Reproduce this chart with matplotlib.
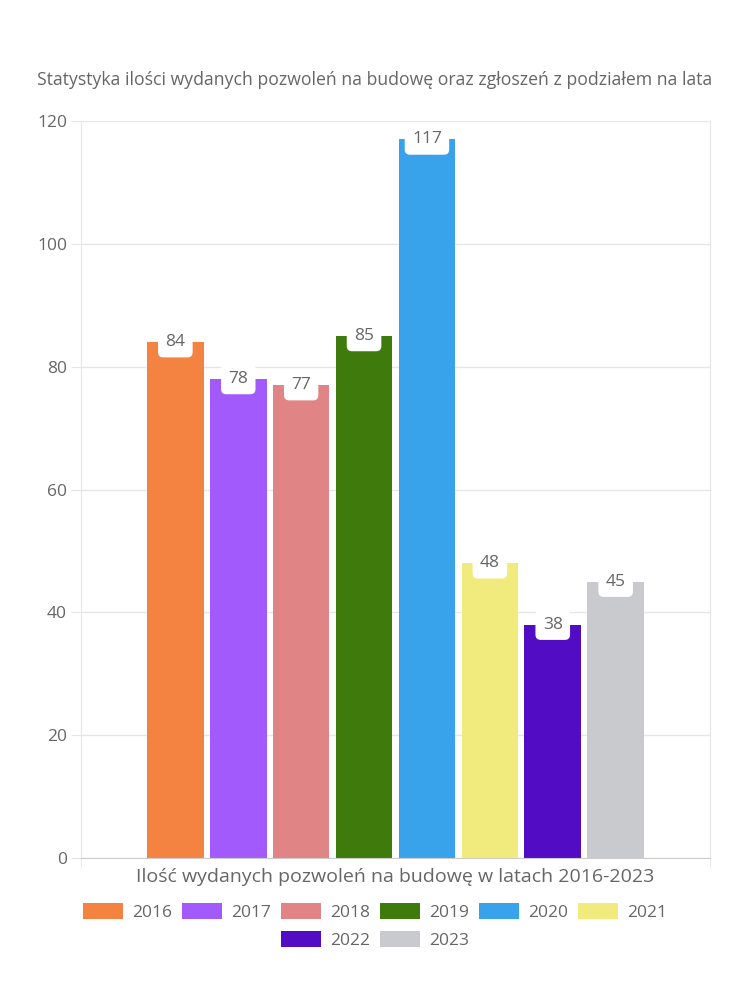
import matplotlib
matplotlib.use("Agg")
import matplotlib.pyplot as plt
from matplotlib.patches import Patch

years = ["2016", "2017", "2018", "2019", "2020", "2021", "2022", "2023"]
values = [84, 78, 77, 85, 117, 48, 38, 45]
colors = ["#F48342", "#A25AFD", "#E08485", "#3E7B0C", "#38A3EB", "#F0EB7C", "#520CC4", "#C9CACE"]
category = "Ilość wydanych pozwoleń na budowę w latach 2016-2023"
title = "Statystyka ilości wydanych pozwoleń na budowę oraz zgłoszeń z podziałem na lata"
yticks = [0, 20, 40, 60, 80, 100, 120]

plt.rcParams['font.family'] = ['Open Sans', 'DejaVu Sans']
txt = "#666666"
grid = "#e6e6e6"

fig = plt.figure(figsize=(7.5, 10), dpi=100)
ax = fig.add_axes([81/750, 1-858/1000, (710-81)/750, (858-121)/1000])

n = len(values)
cat_pct, bar_pct = 0.8, 0.9
slot = cat_pct / n
for i, (v, c) in enumerate(zip(values, colors)):
    x = 0.5 - cat_pct/2 + slot*(i+0.5)
    ax.bar(x, v, width=slot*bar_pct, color=c, zorder=2)
    ax.text(x, v, str(v), ha='center', va='center', fontsize=12.5, color=txt, zorder=4,
            bbox=dict(boxstyle='round,pad=0.42,rounding_size=0.3', fc='white', ec='none'))

ax.set_xlim(0, 1)
ax.set_ylim(0, 120)
ax.set_yticks(yticks)
ax.set_yticklabels([str(t) for t in yticks], fontsize=12.5, color=txt)
ax.tick_params(axis='y', length=7, color=grid, pad=3)
ax.set_xticks([0.5])
ax.set_xticklabels([category], fontsize=14, color=txt)
ax.tick_params(axis='x', which='major', length=0, pad=7)
ax.set_xticks([0, 1], minor=True)
ax.tick_params(axis='x', which='minor', length=7, color=grid)
ax.yaxis.grid(True, color=grid, lw=1, zorder=0)
ax.set_axisbelow(True)
for s in ['left', 'right']:
    ax.spines[s].set_color(grid)
ax.spines['top'].set_visible(False)
ax.spines['bottom'].set_color("#cccccc")

fig.text(0.5, 1-80/1000, title, ha='center', va='center', fontsize=12.7, color=txt)

handles = [Patch(facecolor=c, edgecolor='none') for c in colors]
kw = dict(frameon=False, fontsize=12.5, handlelength=2.3, handleheight=1.0,
          handletextpad=0.5, columnspacing=0.6, labelcolor=txt, loc='center')
leg1 = fig.legend(handles[:6], years[:6], ncol=6, bbox_to_anchor=(0.5, 1-912/1000), **kw)
leg2 = fig.legend(handles[6:], years[6:], ncol=2, bbox_to_anchor=(0.5, 1-940/1000), **kw)

fig.savefig("out.png", dpi=100)
